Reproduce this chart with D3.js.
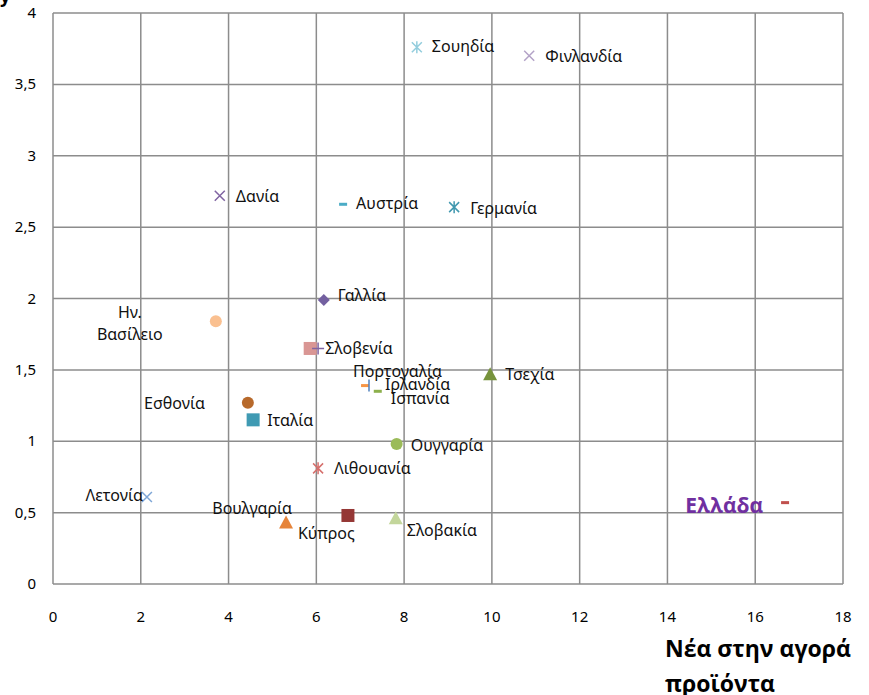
<!DOCTYPE html>
<html>
<head>
<meta charset="utf-8">
<script src="https://cdn.jsdelivr.net/npm/d3@7"></script>
<style>
  body { margin: 0; background: #fff; }
  svg text { font-family: "Noto Sans", "DejaVu Sans", sans-serif; }
  .tick-label { font-size: 15px; fill: #000; }
  .pt-label { font-size: 16px; fill: #111; }
</style>
</head>
<body>
<div id="chart"></div>
<script>

// country names (as in the chart), x = new products in the market, y = second index
var countries = ["Σουηδία", "Φινλανδία", "Δανία", "Αυστρία", "Γερμανία", "Γαλλία",
    "Ην. Βασίλειο", "Σλοβενία", "", "Πορτογαλία", "Ιρλανδία", "Ισπανία", "Τσεχία",
    "Εσθονία", "Ιταλία", "Ουγγαρία", "Λιθουανία", "Λετονία", "Βουλγαρία", "Κύπρος",
    "Σλοβακία", "Ελλάδα"];
var xValues = [8.29, 10.85, 3.80, 6.61, 9.14, 6.17, 3.71, 5.86, 6.04, 7.11, 7.20, 7.40,
    9.96, 4.44, 4.56, 7.83, 6.04, 2.14, 5.31, 6.72, 7.81, 16.68];
var yValues = [3.76, 3.70, 2.72, 2.66, 2.64, 1.99, 1.84, 1.65, 1.65, 1.39, 1.39, 1.35,
    1.47, 1.27, 1.15, 0.98, 0.81, 0.61, 0.43, 0.48, 0.46, 0.57];

var xTicks = [0, 2, 4, 6, 8, 10, 12, 14, 16, 18];
var yTicks = [0, 0.5, 1, 1.5, 2, 2.5, 3, 3.5, 4];
var xTitle = ["Νέα στην αγορά", "προϊόντα"];

// marker look per point (Excel-like default series)
var markerShape = ["star", "x", "x", "dash", "star", "diamond", "circle", "square", "plus",
    "dash", "bar", "dash", "triangle", "circle", "square", "circle", "star", "x",
    "triangle", "square", "triangle", "dash"];
var markerColor = ["#93cddd", "#b3a2c7", "#8064a2", "#4bacc6", "#4198af", "#7360a0",
    "#fac090", "#d99694", "#8064a2", "#f79646", "#4f81bd", "#8cb04c", "#77933c",
    "#b7692b", "#3f9ab3", "#9bbb59", "#d6706d", "#7ea6d6", "#e6843a", "#953735",
    "#c3d69b", "#c0504d"];

// label offsets from the marker (dx, dy, anchor)
var labelPos = [[15, 0, "start"], [16, 1, "start"], [16, 1, "start"], [13, 0, "start"],
    [16, 2, "start"], [14, -4, "start"], [-86, 0, "middle"], [15, 1, "start"], [0, 0, "start"],
    [-12, -14, "start"], [16, -1, "start"], [13, 8, "start"], [15, 1, "start"],
    [-43, 1, "end"], [14, 1, "start"], [14, 2, "start"], [16, 1, "start"], [-4, -1, "end"],
    [6, -14, "end"], [-50, 19, "start"], [11, 13, "start"], [-22, 3, "end"]];

var data = countries.map(function(c, i) {
    return {name: c, x: xValues[i], y: yValues[i], shape: markerShape[i],
        color: markerColor[i], lp: labelPos[i]};
});

var width = 869, height = 695;
var margin = {top: 13, right: 26, bottom: 111, left: 53};

var svg = d3.select("#chart").append("svg")
    .attr("width", width)
    .attr("height", height);

var xScale = d3.scaleLinear().domain([0, 18]).range([margin.left, width - margin.right]);
var yScale = d3.scaleLinear().domain([0, 4]).range([height - margin.bottom, margin.top]);

// grid
svg.append("g").selectAll("line.vg")
    .data(xTicks)
    .enter().append("line")
    .attr("x1", function(d) { return xScale(d); })
    .attr("x2", function(d) { return xScale(d); })
    .attr("y1", yScale(0))
    .attr("y2", yScale(4))
    .attr("stroke", "#8c8c8c")
    .attr("stroke-width", 1.5);

svg.append("g").selectAll("line.hg")
    .data(yTicks)
    .enter().append("line")
    .attr("x1", xScale(0))
    .attr("x2", xScale(18))
    .attr("y1", function(d) { return yScale(d); })
    .attr("y2", function(d) { return yScale(d); })
    .attr("stroke", "#8c8c8c")
    .attr("stroke-width", 1.5);

// tick labels
var fmt = function(d) { return String(d).replace(".", ","); };

svg.append("g").selectAll("text")
    .data(yTicks)
    .enter().append("text")
    .attr("class", "tick-label")
    .attr("x", 36)
    .attr("y", function(d) { return yScale(d) + 5; })
    .attr("text-anchor", "end")
    .text(fmt);

svg.append("g").selectAll("text")
    .data(xTicks)
    .enter().append("text")
    .attr("class", "tick-label")
    .attr("x", function(d) { return xScale(d); })
    .attr("y", 622)
    .attr("text-anchor", "middle")
    .text(fmt);

// axis title
svg.append("text")
    .attr("x", 665)
    .attr("y", 657)
    .style("font-family", "'Open Sans', sans-serif")
    .style("font-weight", "bold")
    .style("font-size", "23px")
    .selectAll("tspan")
    .data(xTitle)
    .enter().append("tspan")
    .attr("x", 665)
    .attr("dy", function(d, i) { return i ? 35 : 0; })
    .text(function(d) { return d; });

// cut-off title at the top left
svg.append("text")
    .attr("x", 0)
    .attr("y", 3)
    .style("font-weight", "bold")
    .style("font-size", "18px")
    .text("y");

// markers
function drawMarker(g, d) {
    var c = d.color;
    if (d.shape === "circle") {
        g.append("circle").attr("r", 6).attr("fill", c);
    } else if (d.shape === "square") {
        g.append("rect").attr("x", -6.5).attr("y", -6.5).attr("width", 13).attr("height", 13).attr("fill", c);
    } else if (d.shape === "diamond") {
        g.append("path").attr("d", "M0,-6L6,0L0,6L-6,0Z").attr("fill", c);
    } else if (d.shape === "triangle") {
        g.append("path").attr("d", "M0,-7L7,6L-7,6Z").attr("fill", c);
    } else if (d.shape === "dash") {
        g.append("rect").attr("x", -4).attr("y", -1.5).attr("width", 8).attr("height", 3).attr("fill", c);
    } else if (d.shape === "bar") {
        g.append("line").attr("x1", 0).attr("x2", 0).attr("y1", -6).attr("y2", 6)
            .attr("stroke", c).attr("stroke-width", 1.5);
    } else if (d.shape === "plus") {
        g.append("path").attr("d", "M-6,0H6M0,-6V6").attr("stroke", c).attr("stroke-width", 1.5);
    } else if (d.shape === "x") {
        g.append("path").attr("d", "M-5,-5L5,5M-5,5L5,-5").attr("stroke", c).attr("stroke-width", 1.5);
    } else if (d.shape === "star") {
        g.append("path").attr("d", "M-5,-5L5,5M-5,5L5,-5M0,-6V6").attr("stroke", c).attr("stroke-width", 1.5);
    }
}

var pts = svg.append("g").selectAll("g.pt")
    .data(data)
    .enter().append("g")
    .attr("class", "pt")
    .attr("transform", function(d) { return "translate(" + xScale(d.x) + "," + yScale(d.y) + ")"; });

pts.each(function(d) { drawMarker(d3.select(this), d); });

// labels
svg.append("g").selectAll("text")
    .data(data.filter(function(d) { return d.name !== "" && d.name !== "Ελλάδα" && d.name !== "Ην. Βασίλειο"; }))
    .enter().append("text")
    .attr("class", "pt-label")
    .attr("x", function(d) { return xScale(d.x) + d.lp[0]; })
    .attr("y", function(d) { return yScale(d.y) + d.lp[1] + 5; })
    .attr("text-anchor", function(d) { return d.lp[2]; })
    .text(function(d) { return d.name; });

var uk = data.filter(function(d) { return d.name === "Ην. Βασίλειο"; })[0];
svg.append("text")
    .attr("class", "pt-label")
    .attr("text-anchor", "middle")
    .selectAll("tspan")
    .data(["Ην.", "Βασίλειο"])
    .enter().append("tspan")
    .attr("x", xScale(uk.x) + uk.lp[0])
    .attr("y", function(d, i) { return yScale(uk.y) + (i ? 14 : -8) + 5; })
    .text(function(d) { return d; });

var gr = data.filter(function(d) { return d.name === "Ελλάδα"; })[0];
svg.append("text")
    .attr("x", xScale(gr.x) + gr.lp[0])
    .attr("y", yScale(gr.y) + gr.lp[1] + 7)
    .attr("text-anchor", "end")
    .style("font-family", "'Open Sans', sans-serif")
    .style("font-weight", "bold")
    .style("font-size", "21px")
    .style("fill", "#7030a0")
    .text(gr.name);

</script>
</body>
</html>
